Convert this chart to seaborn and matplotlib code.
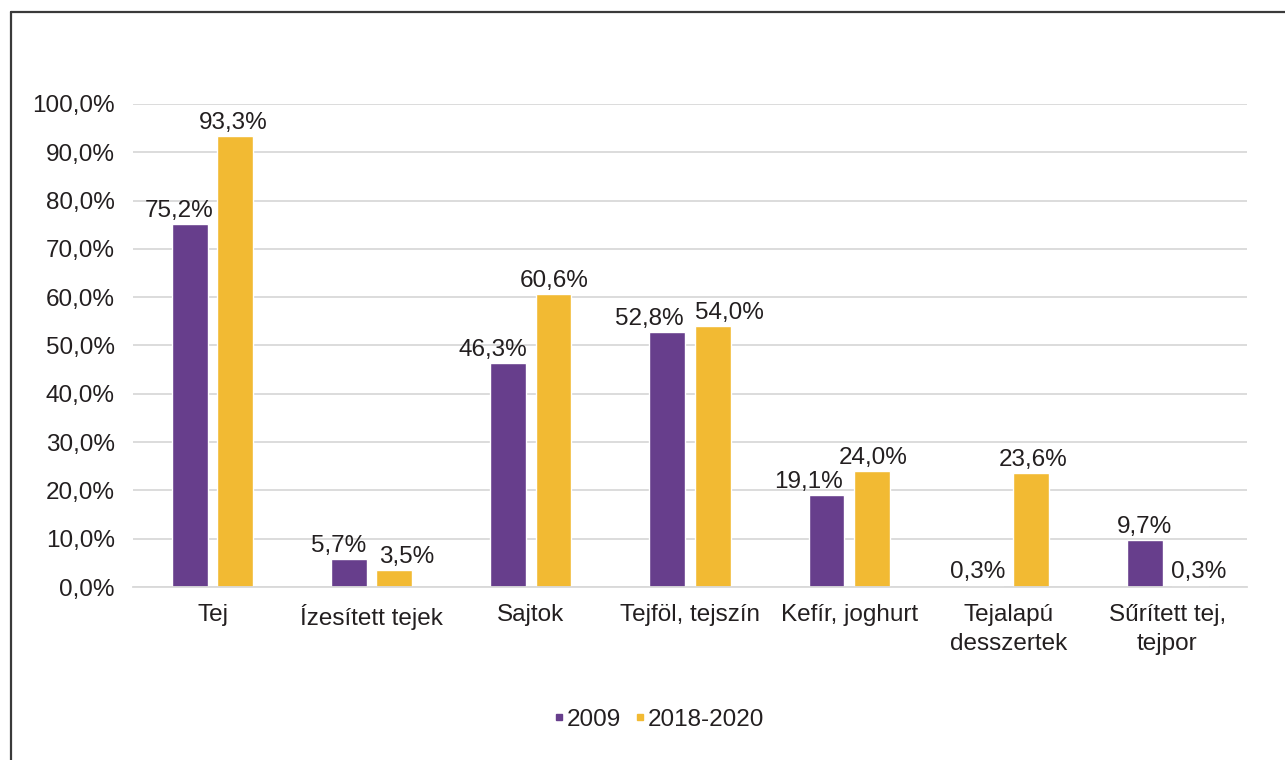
import matplotlib
matplotlib.use("Agg")
import matplotlib.pyplot as plt
from matplotlib.lines import Line2D
import seaborn as sns
import pandas as pd

categories = ["Tej", "Ízesített tejek", "Sajtok", "Tejföl, tejszín",
              "Kefír, joghurt", "Tejalapú\ndesszertek", "Sűrített tej,\ntejpor"]
values_2009 = [75.2, 5.7, 46.3, 52.8, 19.1, 0.3, 9.7]
values_2018_2020 = [93.3, 3.5, 60.6, 54.0, 24.0, 23.6, 0.3]
series_names = ["2009", "2018-2020"]
colors = ["#673E8C", "#F2BA33"]

# horizontal nudges (in pixels) so neighbouring value labels do not collide
label_shift_2009 = [-10.5, -10, -15.5, -18, -17.5, -7.5, 0]
label_shift_2018 = [-2, 12, 1, 17, 1, 2, 8.5]

df = pd.DataFrame({
    "kategoria": categories * 2,
    "ertek": values_2009 + values_2018_2020,
    "idoszak": [series_names[0]] * len(categories) + [series_names[1]] * len(categories),
})

sns.set_theme(style="white")
plt.rcParams["font.family"] = ["Liberation Sans", "DejaVu Sans"]
text_color = "#231F20"
fs = 17.5
DPI = 100

fig = plt.figure(figsize=(12.85, 7.6), dpi=DPI)
ax = fig.add_axes([0.1035, 0.2276, 0.8669, 0.6356])

sns.barplot(data=df, x="kategoria", y="ertek", hue="idoszak",
            palette=colors, width=0.57, gap=0.21, ax=ax,
            saturation=1, legend=False, errorbar=None)

ax.set_ylim(0, 100)
ax.set_xlim(-0.5, len(categories) - 0.5)
ax.set_yticks(range(0, 101, 10))
ax.set_yticklabels([f"{t},0%" for t in range(0, 101, 10)], fontsize=fs, color=text_color)
ax.tick_params(axis="y", length=0, pad=13)
ax.tick_params(axis="x", length=0, pad=12, labelsize=fs, labelcolor=text_color)
for lbl in ax.get_xticklabels():
    lbl.set_linespacing(1.45)
ax.set_xlabel("")
ax.set_ylabel("")
ax.grid(axis="y", color="#D9D9D9", linewidth=1.3)
ax.set_axisbelow(True)
for s in ["top", "right", "left"]:
    ax.spines[s].set_visible(False)
ax.spines["bottom"].set_color("#D9D9D9")
ax.spines["bottom"].set_linewidth(1.3)

for container, shifts in zip(ax.containers, [label_shift_2009, label_shift_2018]):
    for bar, val, dx in zip(container, container.datavalues, shifts):
        ax.annotate(f"{val:.1f}%".replace(".", ","),
                    xy=(bar.get_x() + bar.get_width() / 2, bar.get_height()),
                    xytext=(dx * 72 / DPI, 1.5), textcoords="offset points",
                    ha="center", va="bottom", fontsize=fs, color=text_color)

handles = [Line2D([], [], marker="s", linestyle="", markersize=5,
                  markerfacecolor=c, markeredgecolor=c) for c in colors]
fig.legend(handles, series_names, loc="center", bbox_to_anchor=(0.513, 0.053),
           ncol=2, frameon=False, fontsize=fs, handlelength=0.4, handletextpad=0.1,
           columnspacing=0.6, labelcolor=text_color)

# outer frame (left and top edges)
fig.add_artist(Line2D([0.0082, 0.0082], [0.0, 0.984], transform=fig.transFigure,
                      color="#3a3a3a", linewidth=1.6))
fig.add_artist(Line2D([0.0082, 1.0], [0.984, 0.984], transform=fig.transFigure,
                      color="#3a3a3a", linewidth=1.6))

fig.savefig("out.png", dpi=DPI, facecolor="white")
